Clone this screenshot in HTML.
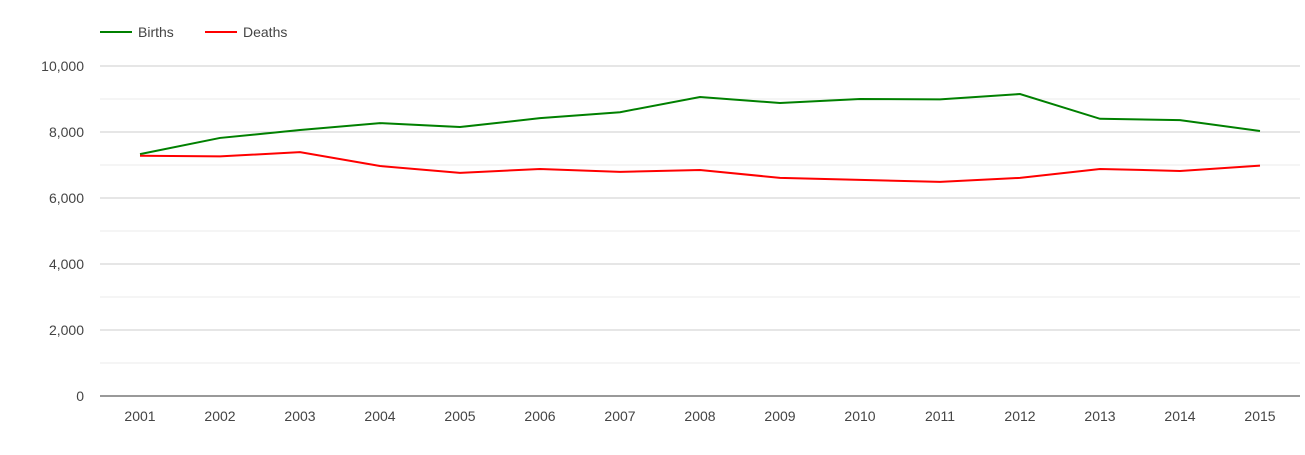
<!DOCTYPE html>
<html><head><meta charset="utf-8"><style>
body{margin:0;background:#fff;font-family:"Liberation Sans",Arial,sans-serif;}
svg text{font-family:"Liberation Sans",Arial,sans-serif;font-size:14px;fill:#444;}
</style></head><body>
<svg id="chart" width="1305" height="450"></svg>
<script>
const years=["2001","2002","2003","2004","2005","2006","2007","2008","2009","2010","2011","2012","2013","2014","2015"];
const births=[7330,7820,8060,8270,8150,8420,8600,9060,8880,9000,8990,9150,8400,8360,8030];
const deaths=[7280,7260,7390,6970,6760,6880,6790,6850,6610,6550,6490,6610,6880,6820,6980];
const yTicks=[0,2000,4000,6000,8000,10000];
const yTickLabels=["0","2,000","4,000","6,000","8,000","10,000"];
const NS="http://www.w3.org/2000/svg";
const svg=document.getElementById('chart');
const L=100,R=1300,T=66,B=396,yMax=10000;
const y=v=>B-(v/yMax)*(B-T);
const step=(R-L)/years.length;
const x=i=>L+step*(i+0.5);
function mk(t,a,p){const e=document.createElementNS(NS,t);for(const k in a)e.setAttribute(k,a[k]);(p||svg).appendChild(e);return e;}
for(let i=0;i<yTicks.length-1;i++){
 const g=mk('line',{x1:L,x2:R,y1:y((yTicks[i]+yTicks[i+1])/2),y2:y((yTicks[i]+yTicks[i+1])/2),stroke:'#ebebeb'});
 
 
}
yTicks.forEach((v,i)=>{
 if(v>0){const g=mk('line',{x1:L,x2:R,y1:y(v),y2:y(v),stroke:'#ccc'});
 
 }
 const t=mk('text',{x:L-16,y:y(v)+5,'text-anchor':'end'});t.textContent=yTickLabels[i];
 
 
});
const ax=mk('line',{x1:L,x2:R,y1:B,y2:B,stroke:'#333'});


years.forEach((yr,i)=>{
 const t=mk('text',{x:x(i),y:421,'text-anchor':'middle'});t.textContent=yr;
 
 
});
function line(data,color,name){
 const p=mk('polyline',{points:data.map((v,i)=>x(i)+','+y(v)).join(' '),fill:'none',stroke:color,'stroke-width':2});
 
 
}
line(births,'#008000','births-line');
line(deaths,'#ff0000','deaths-line');
function legend(lx,color,label,name){
 const g=mk('g',{});
 
 
 mk('line',{x1:lx,x2:lx+32,y1:32,y2:32,stroke:color,'stroke-width':2},g);
 const t=mk('text',{x:lx+38,y:37},g);t.textContent=label;
}
legend(100,'#008000','Births','legend-births');
legend(205,'#ff0000','Deaths','legend-deaths');
</script>
</body></html>
